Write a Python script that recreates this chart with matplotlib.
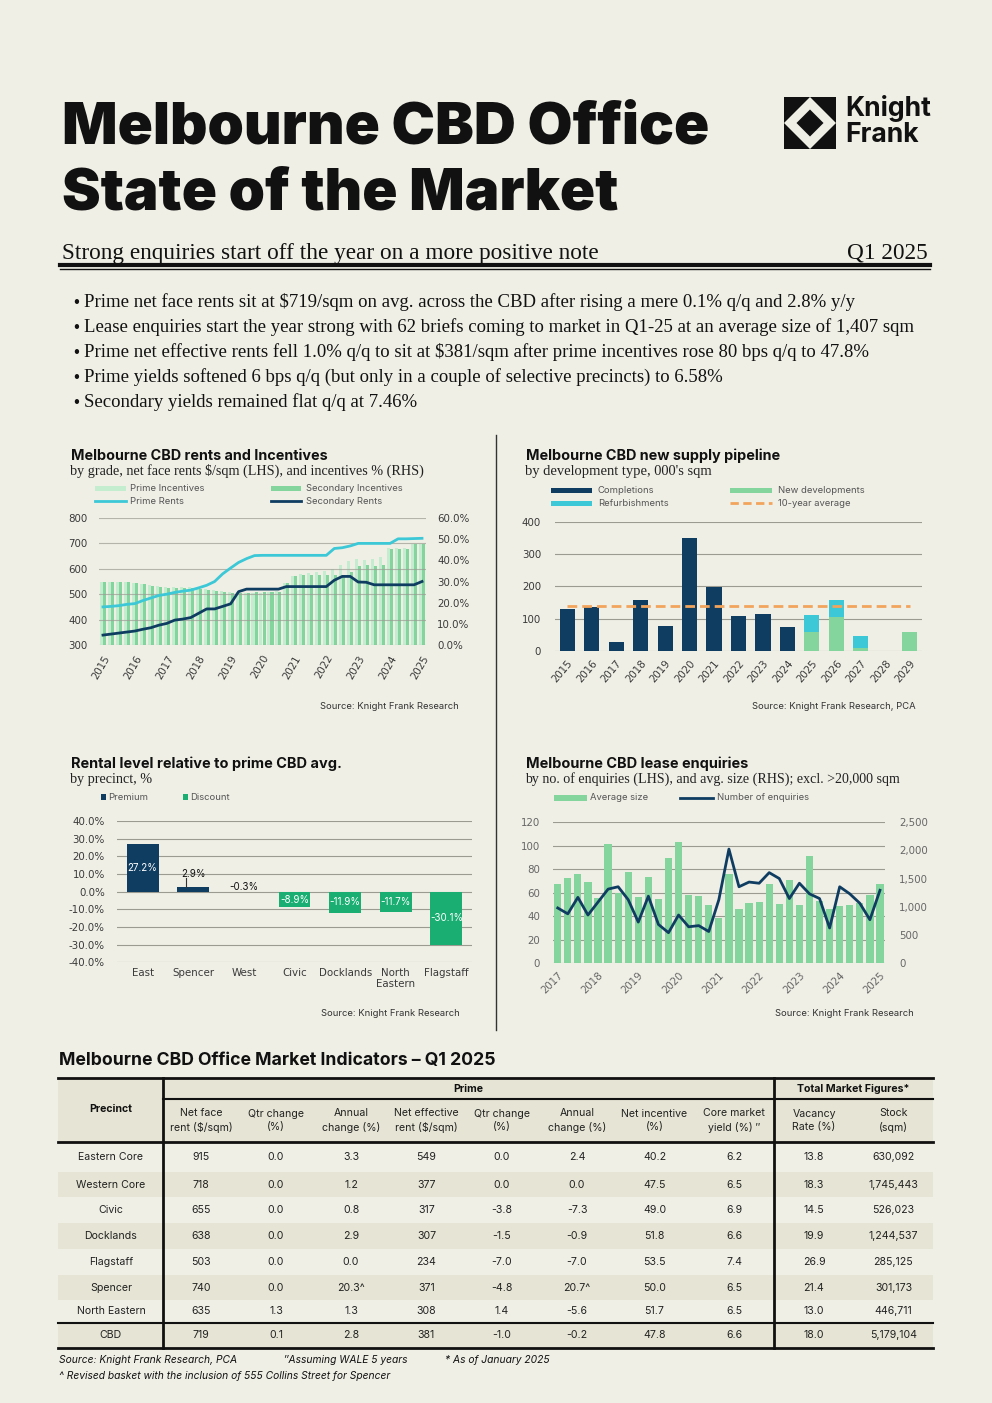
"""
Melbourne CBD Office - State of the Market, Q1 2025 (one-page factsheet).

Writes out.png at 992x1403 px.
"""
import matplotlib

matplotlib.use("Agg")
import matplotlib.pyplot as plt
import numpy as np
from matplotlib.lines import Line2D
from matplotlib.patches import Polygon, Rectangle

W, H = 992, 1403

BG = "#F0EFE6"
SHADE = "#E6E4D4"
NAVY = "#0F3D62"
CYAN = "#3CC8D6"
GREEN = "#84D49E"
LIGHT = "#C4EDCF"
DISCOUNT = "#1AAE72"
ORANGE = "#F2A45C"
GRID = "#9B9B92"
TICK = "#3A3A3A"
INK = "#111111"

SANS = ["Inter", "DejaVu Sans"]
SERIF = ["Liberation Serif", "DejaVu Serif"]

# ---- rents and incentives (quarterly, Q1-15 .. Q1-25)
RENT_YEARS = list(range(2015, 2026))
PRIME_INCENTIVES = [30, 30, 30, 30, 29.5, 29, 28.5, 28, 27.5, 27.5, 27.5, 27.5,
                    27, 26.5, 26, 25.5, 25, 25, 24.5, 24.5, 24.5, 25, 25.5, 29.5,
                    32.5, 33.5, 34, 34.5, 35, 36, 38, 39.5, 40.5, 40, 40.5, 41.5,
                    46, 46, 46, 47.8, 47.8]
SECONDARY_INCENTIVES = [30, 30, 30, 30, 29.5, 29, 28, 27.5, 27, 27, 27, 27,
                        26.5, 26, 25.5, 25, 24.5, 24.5, 24.5, 25, 25, 25, 25, 29.5,
                        32.5, 33, 33, 33, 33, 33, 33, 34.5, 37.5, 38, 37.5, 38,
                        45.5, 45.5, 45.5, 47.5, 47.5]
PRIME_RENTS = [450, 452, 455, 460, 463, 475, 485, 495, 500, 507, 512, 516,
               525, 535, 550, 580, 603, 625, 640, 652, 653, 653, 653, 653,
               653, 653, 653, 653, 653, 680, 683, 690, 700, 700, 700, 700,
               700, 718, 718, 719, 720]
SECONDARY_RENTS = [339, 343, 347, 351, 355, 362, 368, 378, 385, 398, 402, 408,
                   425, 442, 442, 452, 462, 510, 520, 520, 520, 520, 520, 530,
                   530, 530, 530, 530, 530, 555, 570, 570, 548, 547, 537, 537,
                   537, 537, 537, 537, 550]

# ---- supply pipeline, 000's sqm
SUPPLY_YEARS = list(range(2015, 2030))
COMPLETIONS = [130, 137, 28, 158, 77, 349, 199, 108, 113, 74, 0, 0, 0, 0, 0]
NEW_DEVELOPMENTS = [0, 0, 0, 0, 0, 0, 0, 0, 0, 0, 58, 105, 10, 0, 60]
REFURBISHMENTS = [0, 0, 0, 0, 0, 0, 0, 0, 0, 0, 54, 53, 36, 0, 0]
TEN_YEAR_AVG = 138

# ---- rental level relative to prime CBD average, %
PRECINCTS_REL = ["East", "Spencer", "West", "Civic", "Docklands", "North\nEastern", "Flagstaff"]
REL_LEVEL = [27.2, 2.9, -0.3, -8.9, -11.9, -11.7, -30.1]

# ---- lease enquiries (quarterly, Q1-17 .. Q1-25)
ENQ_YEARS = list(range(2017, 2026))
AVG_SIZE = [1404, 1504, 1588, 1440, 1150, 2113, 1250, 1617, 1175, 1529, 1140,
            1871, 2148, 1208, 1198, 1027, 808, 1581, 956, 1075, 1092, 1410,
            1050, 1465, 1040, 1890, 1110, 960, 1015, 1033, 1075, 1204, 1407]
NUM_ENQUIRIES = [47, 42, 56, 41, 52, 63, 65, 54, 35, 57, 33, 26, 41, 31, 32, 27,
                 54, 97, 65, 69, 68, 77, 72, 55, 68, 59, 55, 30, 65, 59, 51, 37, 62]

# ---- market indicators table
TBL_PRECINCTS = ["Eastern Core", "Western Core", "Civic", "Docklands", "Flagstaff",
                 "Spencer", "North Eastern", "CBD"]
TBL_NET_FACE = ["915", "718", "655", "638", "503", "740", "635", "719"]
TBL_FACE_QTR = ["0.0", "0.0", "0.0", "0.0", "0.0", "0.0", "1.3", "0.1"]
TBL_FACE_ANN = ["3.3", "1.2", "0.8", "2.9", "0.0", "20.3^", "1.3", "2.8"]
TBL_NET_EFF = ["549", "377", "317", "307", "234", "371", "308", "381"]
TBL_EFF_QTR = ["0.0", "0.0", "-3.8", "-1.5", "-7.0", "-4.8", "1.4", "-1.0"]
TBL_EFF_ANN = ["2.4", "0.0", "-7.3", "-0.9", "-7.0", "20.7^", "-5.6", "-0.2"]
TBL_INCENTIVE = ["40.2", "47.5", "49.0", "51.8", "53.5", "50.0", "51.7", "47.8"]
TBL_YIELD = ["6.2", "6.5", "6.9", "6.6", "7.4", "6.5", "6.5", "6.6"]
TBL_VACANCY = ["13.8", "18.3", "14.5", "19.9", "26.9", "21.4", "13.0", "18.0"]
TBL_STOCK = ["630,092", "1,745,443", "526,023", "1,244,537", "285,125", "301,173",
             "446,711", "5,179,104"]
TBL_HEADERS = ["Net face\nrent (\\$/sqm)", "Qtr change\n(%)", "Annual\nchange (%)",
               "Net effective\nrent (\\$/sqm)", "Qtr change\n(%)", "Annual\nchange (%)",
               "Net incentive\n(%)", "Core market\nyield (%) \u2033", "Vacancy\nRate (%)",
               "Stock\n(sqm)"]

BULLETS = [
    "Prime net face rents sit at \\$719/sqm on avg. across the CBD after rising a mere 0.1% q/q and 2.8% y/y",
    "Lease enquiries start the year strong with 62 briefs coming to market in Q1-25 at an average size of 1,407 sqm",
    "Prime net effective rents fell 1.0% q/q to sit at \\$381/sqm after prime incentives rose 80 bps q/q to 47.8%",
    "Prime yields softened 6 bps q/q (but only in a couple of selective precincts) to 6.58%",
    "Secondary yields remained flat q/q at 7.46%",
]

fig = plt.figure(figsize=(W / 100, H / 100), dpi=100)
fig.patch.set_facecolor(BG)

TICK_FS = 7.4


def fx(x):
    return x / W


def fy(y):
    return 1 - y / H


def ftext(x, y, s, **kw):
    kw.setdefault("family", SANS)
    kw.setdefault("color", INK)
    kw.setdefault("va", "center")
    return fig.text(fx(x), fy(y), s, **kw)


def fit_width(txt, width_px):
    r = fig.canvas.get_renderer()
    bb = txt.get_window_extent(renderer=r)
    txt.set_fontsize(txt.get_fontsize() * width_px / bb.width)


def px_axes(x0, y0, x1, y1):
    ax = fig.add_axes([fx(x0), fy(y1), (x1 - x0) / W, (y1 - y0) / H])
    ax.set_facecolor("none")
    for s in ax.spines.values():
        s.set_visible(False)
    ax.tick_params(length=0, colors=TICK, labelsize=TICK_FS)
    return ax


def hline(x0, x1, y, lw=1.0, color=INK, **kw):
    fig.add_artist(Line2D([fx(x0), fx(x1)], [fy(y), fy(y)], transform=fig.transFigure,
                          color=color, lw=lw, **kw))


def vline(x, y0, y1, lw=1.0, color=INK):
    fig.add_artist(Line2D([fx(x), fx(x)], [fy(y0), fy(y1)], transform=fig.transFigure,
                          color=color, lw=lw))


def patch(x, y, w, h, color):
    fig.add_artist(Rectangle((fx(x), fy(y + h / 2)), w / W, h / H,
                             transform=fig.transFigure, color=color, lw=0))


def poly(pts, color):
    fig.add_artist(Polygon([(fx(px), fy(py)) for px, py in pts], closed=True,
                           transform=fig.transFigure, color=color, lw=0))


def legend_text(x, y, s):
    ftext(x, y, s, fontsize=6.8, color="#555555")


def chart_heading(x, y, title, sub, title_w, sub_w):
    t = ftext(x, y, title, fontsize=10, fontweight="bold")
    fit_width(t, title_w)
    s = ftext(x - 1, y + 15, sub, fontsize=10, family=SERIF, color="#222222")
    fit_width(s, sub_w)


def source(x, y, s):
    ftext(x, y, s, fontsize=6.8, ha="right", color="#333333")


def draw_logo(x0, y0, s):
    # black corners + black centre diamond, white diamond ring between them
    poly([(x0, y0), (x0 + s, y0), (x0 + s, y0 + s), (x0, y0 + s)], INK)
    poly([(x0 + s / 2, y0), (x0 + s, y0 + s / 2), (x0 + s / 2, y0 + s), (x0, y0 + s / 2)], BG)
    d = 0.26 * s
    cx, cy = x0 + s / 2, y0 + s / 2
    poly([(cx, cy - d), (cx + d, cy), (cx, cy + d), (cx - d, cy)], INK)


def draw_header():
    t1 = ftext(62, 143, "Melbourne CBD Office", fontsize=46, fontweight="black",
               va="baseline")
    fit_width(t1, 646)
    ftext(62, 209, "State of the Market", fontsize=t1.get_fontsize(), fontweight="black",
          va="baseline")

    draw_logo(784, 97, 52)
    k = ftext(845, 109, "Knight", fontsize=18, fontweight="bold")
    fit_width(k, 86)
    ftext(845, 135, "Frank", fontsize=k.get_fontsize(), fontweight="bold")

    st = ftext(62, 253, "Strong enquiries start off the year on a more positive note",
               fontsize=16, family=SERIF)
    fit_width(st, 537)
    ftext(928, 253, "Q1 2025", fontsize=st.get_fontsize(), family=SERIF, ha="right")
    hline(60, 930, 264.5, lw=3.0)
    hline(60, 930, 269, lw=1.0)

    lines = []
    for i, b in enumerate(BULLETS):
        ftext(72, 302 + 25 * i, "\u2022", fontsize=10, family=SANS)
        lines.append(ftext(84, 302 + 25 * i, b, fontsize=12, family=SERIF))
    fit_width(lines[1], 828)
    for t in lines:
        t.set_fontsize(lines[1].get_fontsize())


def draw_rents():
    chart_heading(71, 456, "Melbourne CBD rents and Incentives",
                  "by grade, net face rents \\$/sqm (LHS), and incentives % (RHS)", 257, 353)
    patch(95, 488.5, 31, 5, LIGHT)
    legend_text(130, 488.5, "Prime Incentives")
    patch(271, 488.5, 30, 5, GREEN)
    legend_text(306, 488.5, "Secondary Incentives")
    hline(95, 126, 501, lw=2.0, color=CYAN)
    legend_text(130, 501, "Prime Rents")
    hline(271, 301, 501, lw=2.0, color=NAVY)
    legend_text(306, 501, "Secondary Rents")

    q = np.arange(len(PRIME_RENTS))
    ax = px_axes(99, 518, 426, 645)
    ax.bar(q - 0.19, PRIME_INCENTIVES, width=0.38, color=LIGHT, lw=0)
    ax.bar(q + 0.19, SECONDARY_INCENTIVES, width=0.38, color=GREEN, lw=0)
    ax.set_ylim(0, 60)
    ax.set_xlim(-0.5, len(q) - 0.5)
    ax2 = ax.twinx()
    for s in ax2.spines.values():
        s.set_visible(False)
    ax.yaxis.tick_right()
    ax2.yaxis.tick_left()
    ax.set_yticks(np.arange(0, 61, 10))
    ax.set_yticklabels([f"{v:.1f}%" for v in np.arange(0, 61, 10)])
    ax.tick_params(axis="y", pad=8)
    ax2.plot(q, PRIME_RENTS, color=CYAN, lw=2.0)
    ax2.plot(q, SECONDARY_RENTS, color=NAVY, lw=2.0)
    ax2.set_ylim(300, 800)
    ax2.set_yticks(np.arange(300, 801, 100))
    ax2.tick_params(length=0, colors=TICK, labelsize=TICK_FS, pad=8)
    ax2.grid(axis="y", color=GRID, lw=0.8, alpha=0.7)
    ax.set_xticks(q[::4])
    ax.set_xticklabels(RENT_YEARS, rotation=60, ha="right", rotation_mode="anchor")
    ax.tick_params(axis="x", pad=6)
    source(459, 706, "Source: Knight Frank Research")


def draw_supply():
    chart_heading(526, 456, "Melbourne CBD new supply pipeline",
                  "by development type, 000's sqm", 254, 187)
    patch(551, 490.5, 41, 5.5, NAVY)
    legend_text(598, 490.5, "Completions")
    patch(730, 490.5, 42, 5.5, GREEN)
    legend_text(778, 490.5, "New developments")
    patch(551, 503.5, 41, 5.5, CYAN)
    legend_text(598, 503.5, "Refurbishments")
    hline(730, 772, 503.5, lw=2.0, color=ORANGE, ls=(0, (3, 1.6)))
    legend_text(778, 503.5, "10-year average")

    x = np.arange(len(SUPPLY_YEARS))
    ax = px_axes(555, 521.7, 922, 651)
    ax.bar(x, COMPLETIONS, width=0.62, color=NAVY, lw=0, zorder=2)
    ax.bar(x, NEW_DEVELOPMENTS, width=0.62, color=GREEN, lw=0, zorder=2)
    ax.bar(x, REFURBISHMENTS, bottom=NEW_DEVELOPMENTS, width=0.62, color=CYAN, lw=0, zorder=2)
    ax.hlines(TEN_YEAR_AVG, x[0], x[-1], color=ORANGE, lw=2.0, ls=(0, (3.5, 1.8)), zorder=3)
    ax.set_ylim(0, 400)
    ax.set_xlim(-0.5, len(x) - 0.5)
    ax.set_yticks(np.arange(0, 401, 100))
    ax.grid(axis="y", color=GRID, lw=0.8, zorder=0)
    ax.set_axisbelow(True)
    ax.set_xticks(x)
    ax.set_xticklabels(SUPPLY_YEARS, rotation=50, ha="right", rotation_mode="anchor")
    ax.tick_params(axis="y", pad=10)
    ax.tick_params(axis="x", pad=5)
    source(916, 706, "Source: Knight Frank Research, PCA")


def draw_relative():
    chart_heading(71, 764, "Rental level relative to prime CBD avg.", "by precinct, %", 270, 82)
    patch(100.5, 797, 5.5, 5.5, NAVY)
    legend_text(108, 797, "Premium")
    patch(182.5, 797, 5.5, 5.5, DISCOUNT)
    legend_text(190, 797, "Discount")

    x = np.arange(len(REL_LEVEL))
    ax = px_axes(117.3, 821, 471.7, 962.3)
    colors = [NAVY if v > 0 else DISCOUNT for v in REL_LEVEL]
    ax.bar(x, REL_LEVEL, width=0.63, color=colors, lw=0, zorder=2)
    ax.set_ylim(-40, 40)
    ax.set_xlim(-0.5, len(x) - 0.5)
    ax.set_yticks(np.arange(-40, 41, 10))
    ax.set_yticklabels([f"{v:.1f}%" for v in np.arange(-40, 41, 10)])
    ax.grid(axis="y", color=GRID, lw=0.8, zorder=0)
    ax.set_axisbelow(True)
    ax.set_xticks(x)
    ax.set_xticklabels(PRECINCTS_REL, linespacing=1.2)
    ax.tick_params(axis="x", pad=4)
    ax.tick_params(axis="y", pad=9)
    for xi, v in zip(x, REL_LEVEL):
        lab = f"{v:.1f}%"
        if abs(v) >= 5:
            ax.text(xi, v / 2, lab, ha="center", va="center", color="white", fontsize=7,
                    family=SANS)
        elif v > 0:
            ax.plot([xi - 0.15, xi - 0.15], [v, v + 5], color="#333333", lw=0.8)
            ax.text(xi, v + 7.3, lab, ha="center", va="center", color=INK, fontsize=7,
                    family=SANS)
        else:
            ax.text(xi, 2.5, lab, ha="center", va="center", color=INK, fontsize=7,
                    family=SANS)
    source(460, 1014, "Source: Knight Frank Research")


def draw_enquiries():
    chart_heading(526, 764, "Melbourne CBD lease enquiries",
                  "by no. of enquiries (LHS), and avg. size (RHS); excl. >20,000 sqm", 222, 374)
    patch(554, 798, 33, 5.5, GREEN)
    legend_text(590, 798, "Average size")
    hline(680, 713, 798, lw=2.0, color=NAVY)
    legend_text(717, 798, "Number of enquiries")

    q = np.arange(len(AVG_SIZE))
    ax = px_axes(552.7, 822, 885, 963.3)
    for v in np.arange(0, 121, 20):
        ax.axhline(v * 2500 / 120, color=GRID, lw=0.8, zorder=0)
    ax.bar(q, AVG_SIZE, width=0.72, color=GREEN, lw=0, zorder=2)
    ax.set_ylim(0, 2500)
    ax.set_xlim(-0.5, len(q) - 0.5)
    ax2 = ax.twinx()
    for s in ax2.spines.values():
        s.set_visible(False)
    ax.yaxis.tick_right()
    ax2.yaxis.tick_left()
    ax.set_yticks(np.arange(0, 2501, 500))
    ax.set_yticklabels([f"{v:,}" for v in np.arange(0, 2501, 500)])
    ax.tick_params(axis="y", pad=10, colors="#666666")
    ax2.plot(q, NUM_ENQUIRIES, color=NAVY, lw=2.0)
    ax2.set_ylim(0, 120)
    ax2.set_yticks(np.arange(0, 121, 20))
    ax2.tick_params(length=0, colors="#666666", labelsize=TICK_FS, pad=9)
    ax.set_xticks(q[::4])
    ax.set_xticklabels(ENQ_YEARS, rotation=45, ha="right", rotation_mode="anchor",
                       color="#666666")
    ax.tick_params(axis="x", pad=5)
    source(914, 1013, "Source: Knight Frank Research")


def draw_table():
    t = ftext(59, 1061, "Melbourne CBD Office Market Indicators \u2013 Q1 2025", fontsize=12,
              fontweight="bold")
    fit_width(t, 436)

    left, right = 58, 933
    top, head_mid, head_bot = 1077.7, 1099, 1141.7
    bounds = [1141.7, 1171.7, 1197.3, 1223.3, 1249.3, 1275, 1300.3, 1322.7, 1348.3]
    c_prec, c_tot = 163.3, 774

    fig.add_artist(Rectangle((fx(left), fy(head_bot)), (right - left) / W, (head_bot - top) / H,
                             transform=fig.transFigure, color=SHADE, lw=0))
    for r in range(1, len(TBL_PRECINCTS), 2):
        fig.add_artist(Rectangle((fx(left), fy(bounds[r + 1])), (right - left) / W,
                                 (bounds[r + 1] - bounds[r]) / H, transform=fig.transFigure,
                                 color=SHADE, lw=0))

    hline(left, right, top, lw=2.0)
    hline(c_prec, right, head_mid, lw=1.5)
    hline(left, right, head_bot, lw=2.0)
    hline(left, right, bounds[-2], lw=1.5)
    hline(left, right, bounds[-1], lw=2.0)
    vline(c_prec, top, bounds[-1], lw=2.0)
    vline(c_tot, top, bounds[-1], lw=2.0)

    fs = 7.6
    ftext(111, 1109, "Precinct", fontsize=fs, fontweight="bold", ha="center")
    ftext((c_prec + c_tot) / 2, 1088.5, "Prime", fontsize=fs, fontweight="bold", ha="center")
    ftext((c_tot + right) / 2, 1088.5, "Total Market Figures*", fontsize=fs, fontweight="bold",
          ha="center")

    centers = [201, 276, 351, 426.5, 502, 577, 654.5, 734, 814, 893.5]
    columns = [TBL_NET_FACE, TBL_FACE_QTR, TBL_FACE_ANN, TBL_NET_EFF, TBL_EFF_QTR,
               TBL_EFF_ANN, TBL_INCENTIVE, TBL_YIELD, TBL_VACANCY, TBL_STOCK]
    for cx, head in zip(centers, TBL_HEADERS):
        ftext(cx, 1120.5, head, fontsize=fs, ha="center", linespacing=1.35, color="#222222")
    for r, name in enumerate(TBL_PRECINCTS):
        cy = (bounds[r] + bounds[r + 1]) / 2
        ftext(111, cy, name, fontsize=fs, ha="center", color="#222222")
        for cx, col in zip(centers, columns):
            ftext(cx, cy, col[r], fontsize=fs, ha="center", color="#222222")

    fn = 7.4
    ftext(59, 1360, "Source: Knight Frank Research, PCA", fontsize=fn, style="italic")
    ftext(284, 1360, "\u2033Assuming WALE 5 years", fontsize=fn, style="italic")
    ftext(445, 1360, "* As of January 2025", fontsize=fn, style="italic")
    ftext(59, 1376, "^ Revised basket with the inclusion of 555 Collins Street for Spencer",
          fontsize=fn, style="italic")


def main():
    draw_header()
    vline(496, 435, 1030, lw=1.0, color="#333333")
    draw_rents()
    draw_supply()
    draw_relative()
    draw_enquiries()
    draw_table()
    fig.savefig("out.png", dpi=100, facecolor=BG)
    plt.close(fig)


if __name__ == "__main__":
    main()
